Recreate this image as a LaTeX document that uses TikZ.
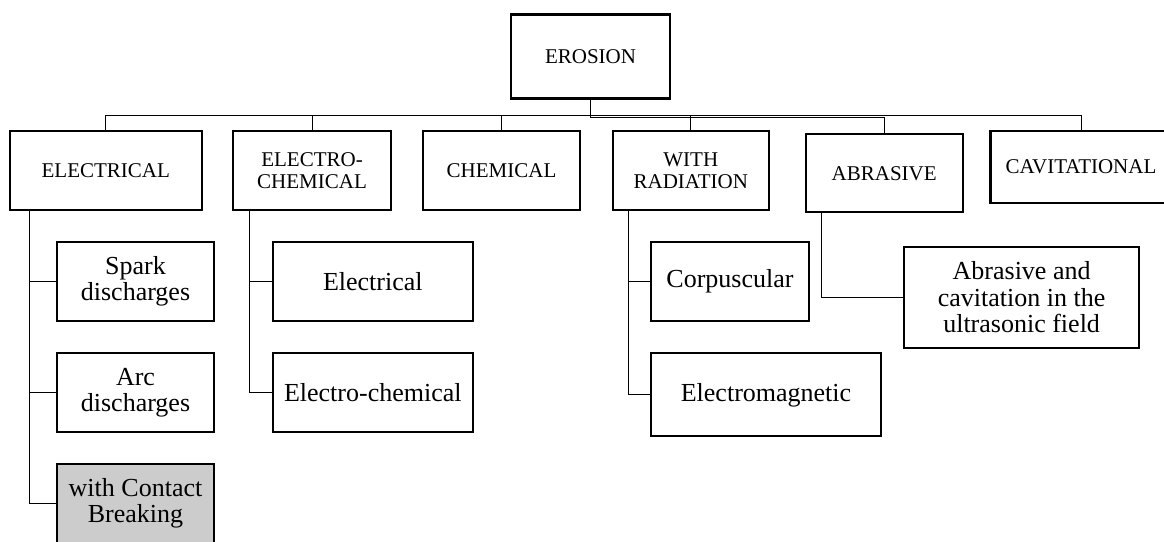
\documentclass[tikz,border=0pt]{standalone}
\usepackage{fontspec}
\setmainfont{Liberation Serif}
\usetikzlibrary{calc}

\tikzset{
    box/.style={draw, line width=2.1pt, fill=white, inner sep=0pt, align=center},
    topbox/.style={box, font=\fontsize{21}{22}\selectfont},
    subbox/.style={box, font=\fontsize{26}{26.5}\selectfont},
    link/.style={line width=1pt},
}

\begin{document}
\begin{tikzpicture}[x=1pt, y=-1pt]
        \useasboundingbox (0,0) rectangle (1164,541);

        % Root
        \node[topbox, minimum width=159pt, minimum height=84pt] (erosion) at (590.5,56.5) {EROSION};

        % First level
        \node[topbox, minimum width=192pt, minimum height=79pt] (electrical) at (105.8,170.5) {ELECTRICAL};
        \node[topbox, minimum width=158pt, minimum height=79pt] (electrochem) at (312,170.5) {ELECTRO-\\CHEMICAL};
        \node[topbox, minimum width=157pt, minimum height=79pt] (chemical) at (501.5,170.5) {CHEMICAL};
        \node[topbox, minimum width=156pt, minimum height=79pt] (radiation) at (690.8,170.5) {WITH\\RADIATION};
        \node[topbox, minimum width=157pt, minimum height=78pt] (abrasive) at (884.2,173.4) {ABRASIVE};
        \node[topbox, minimum width=181pt, minimum height=72pt] (cavitational) at (1081,167.2) {CAVITATIONAL};

        % Second level
        \node[subbox, minimum width=157pt, minimum height=79pt] (spark) at (135.5,281.3) {Spark\\discharges};
        \node[subbox, minimum width=157pt, minimum height=79pt] (arc) at (135.5,392.5) {Arc\\discharges};
        \node[subbox, minimum width=157pt, minimum height=79pt, fill=gray!40] (contact) at (135.5,503.5) {with Contact\\Breaking};
        \node[subbox, minimum width=200pt, minimum height=79pt] (elec) at (372.8,281.3) {Electrical};
        \node[subbox, minimum width=200pt, minimum height=79pt] (elchem) at (372.8,392.5) {Electro-chemical};
        \node[subbox, minimum width=158pt, minimum height=79pt] (corpus) at (730,281.3) {Corpuscular};
        \node[subbox, minimum width=230pt, minimum height=83pt] (electromag) at (766,394.8) {Electromagnetic};
        \node[subbox, minimum width=235pt, minimum height=101pt] (ultrasonic) at (1021.6,297.2) {Abrasive and\\cavitation in the\\ultrasonic field};

        % Bus lines
        \coordinate (busA) at (0,115);
        \coordinate (busB) at (0,117.5);
        \draw[link] (electrical.north) -- (electrical.north |- busA) -- (cavitational.north |- busA) -- (cavitational.north);
        \draw[link] (electrochem.north) -- (electrochem.north |- busA);
        \draw[link] (chemical.north) -- (chemical.north |- busA);
        \draw[link] (radiation.north) -- (radiation.north |- busA);
        \draw[link] (erosion.south) |- (abrasive.north |- busB) -- (abrasive.north);

        % Trunks
        \coordinate (t1) at (29,210);
        \coordinate (t2) at (249.3,210);
        \coordinate (t3) at (628.3,210);
        \coordinate (t4) at (821.3,212.4);
        \draw[link] (t1) |- (contact.west);
        \draw[link] (spark.west) -- (spark.west -| t1);
        \draw[link] (arc.west) -- (arc.west -| t1);
        \draw[link] (t2) |- (elchem.west);
        \draw[link] (elec.west) -- (elec.west -| t2);
        \draw[link] (t3) |- (electromag.west);
        \draw[link] (corpus.west) -- (corpus.west -| t3);
        \draw[link] (t4) |- (ultrasonic.west);
    \end{tikzpicture}
\end{document}
